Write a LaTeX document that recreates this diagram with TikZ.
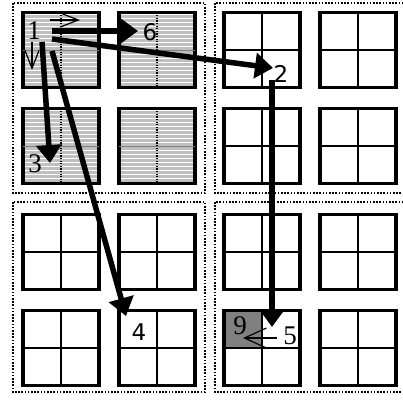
\documentclass[tikz,border=0pt]{standalone}
\usepackage{fontspec}
\setmainfont{Liberation Serif}
\newfontfamily\sansnum{DejaVu Sans}
\usepackage{tikz}
\usetikzlibrary{arrows.meta, backgrounds}

\begin{document}
\begin{tikzpicture}[
  x=1pt, y=-1pt,
  cellbox/.style={rectangle, draw, line width=3.5pt, minimum width=76pt, minimum height=75pt, inner sep=0pt, outer sep=0pt},
  hatched/.style={fill=gray!50, path picture={
      \foreach \k in {2,6,...,78}
        \draw[white, line width=1.2pt] ([yshift=-\k pt]path picture bounding box.north west) -- ([yshift=-\k pt]path picture bounding box.north east);}},
  quad/.style={draw, line width=1.6pt, dash pattern=on 1.6pt off 1.6pt},
  serifnum/.style={font=\fontsize{27}{27}\selectfont, inner sep=0pt},
  sansnum/.style={font=\sansnum\fontsize{23}{23}\selectfont, inner sep=0pt},
  bigarrow/.style={-{Triangle[length=18pt, width=25pt]}, line width=5.5pt},
  openarrow/.style={-{Straight Barb[length=18pt, width=14pt]}, line width=1.2pt}
]
\clip (0,0) rectangle (403,399);

% Quadrant frames
\draw[quad] (13,3) rectangle (205,193);
\draw[quad] (215,3) rectangle (412,193);
\draw[quad] (13,202) rectangle (205,392);
\draw[quad] (215,202) rectangle (412,392);

% Hatched cells (top-left quadrant)
\foreach \r/\y in {1/50,2/146}
  \foreach \c/\x in {1/61,2/157} {
    \node[cellbox, hatched] (c\r\c) at (\x,\y) {};
    \draw[gray, line width=1pt] (c\r\c.west) -- (c\r\c.east);
    \draw[line width=1.3pt, dash pattern=on 1.3pt off 1.3pt] (c\r\c.north) -- (c\r\c.south);
  }

% Plain cells
\foreach \r/\y in {1/50,2/146}
  \foreach \c/\x in {3/262,4/358} {
    \node[cellbox] (c\r\c) at (\x,\y) {};
  }
\foreach \r/\y in {3/252,4/348}
  \foreach \c/\x in {1/61,2/157,3/262,4/358} {
    \node[cellbox] (c\r\c) at (\x,\y) {};
  }
\foreach \cell in {c13,c14,c23,c24,c31,c32,c33,c34,c41,c42,c43,c44} {
  \draw[line width=2pt] (\cell.north) -- (\cell.south);
  \draw[line width=2pt] (\cell.west) -- (\cell.east);
}

% Marked quarter
\begin{scope}[on background layer]
  \fill[gray] (c43.north west) rectangle (c43.center);
\end{scope}

% Labels
\node[serifnum] (n1) at (34,31) {1};
\node[sansnum] (n6) at (150,32) {6};
\node[sansnum] (n2) at (281,74) {2};
\node[serifnum] (n3) at (35,164) {3};
\node[sansnum] (n4) at (139,332) {4};
\node[serifnum] (n5) at (290,336) {5};
\node[serifnum] (n9) at (240,326) {9};

% Arrow ends
\coordinate (r1) at (50,20);
\coordinate (r1end) at (80,20);
\coordinate (d1) at (32,42);
\coordinate (d1end) at (32,70);
\coordinate (s6) at (52,31);
\coordinate (t6) at (138,31);
\coordinate (s2) at (52,39);
\coordinate (t2) at (273,68);
\coordinate (s3) at (42,42);
\coordinate (t3) at (50,163);
\coordinate (s4) at (52,51);
\coordinate (t4) at (126,316);
\coordinate (s5) at (272,80);
\coordinate (t5) at (272,327);
\coordinate (s9) at (277,338);
\coordinate (t9) at (243,338);

% Arrows
\draw[openarrow] (r1) -- (r1end);
\draw[openarrow] (d1) -- (d1end);
\draw[bigarrow] (s6) -- (t6);
\draw[bigarrow] (s2) -- (t2);
\draw[bigarrow] (s3) -- (t3);
\draw[bigarrow] (s4) -- (t4);
\draw[bigarrow] (s5) -- (t5);
\draw[openarrow, -{Straight Barb[length=22pt, width=20pt]}] (s9) -- (t9);

\end{tikzpicture}
\end{document}
